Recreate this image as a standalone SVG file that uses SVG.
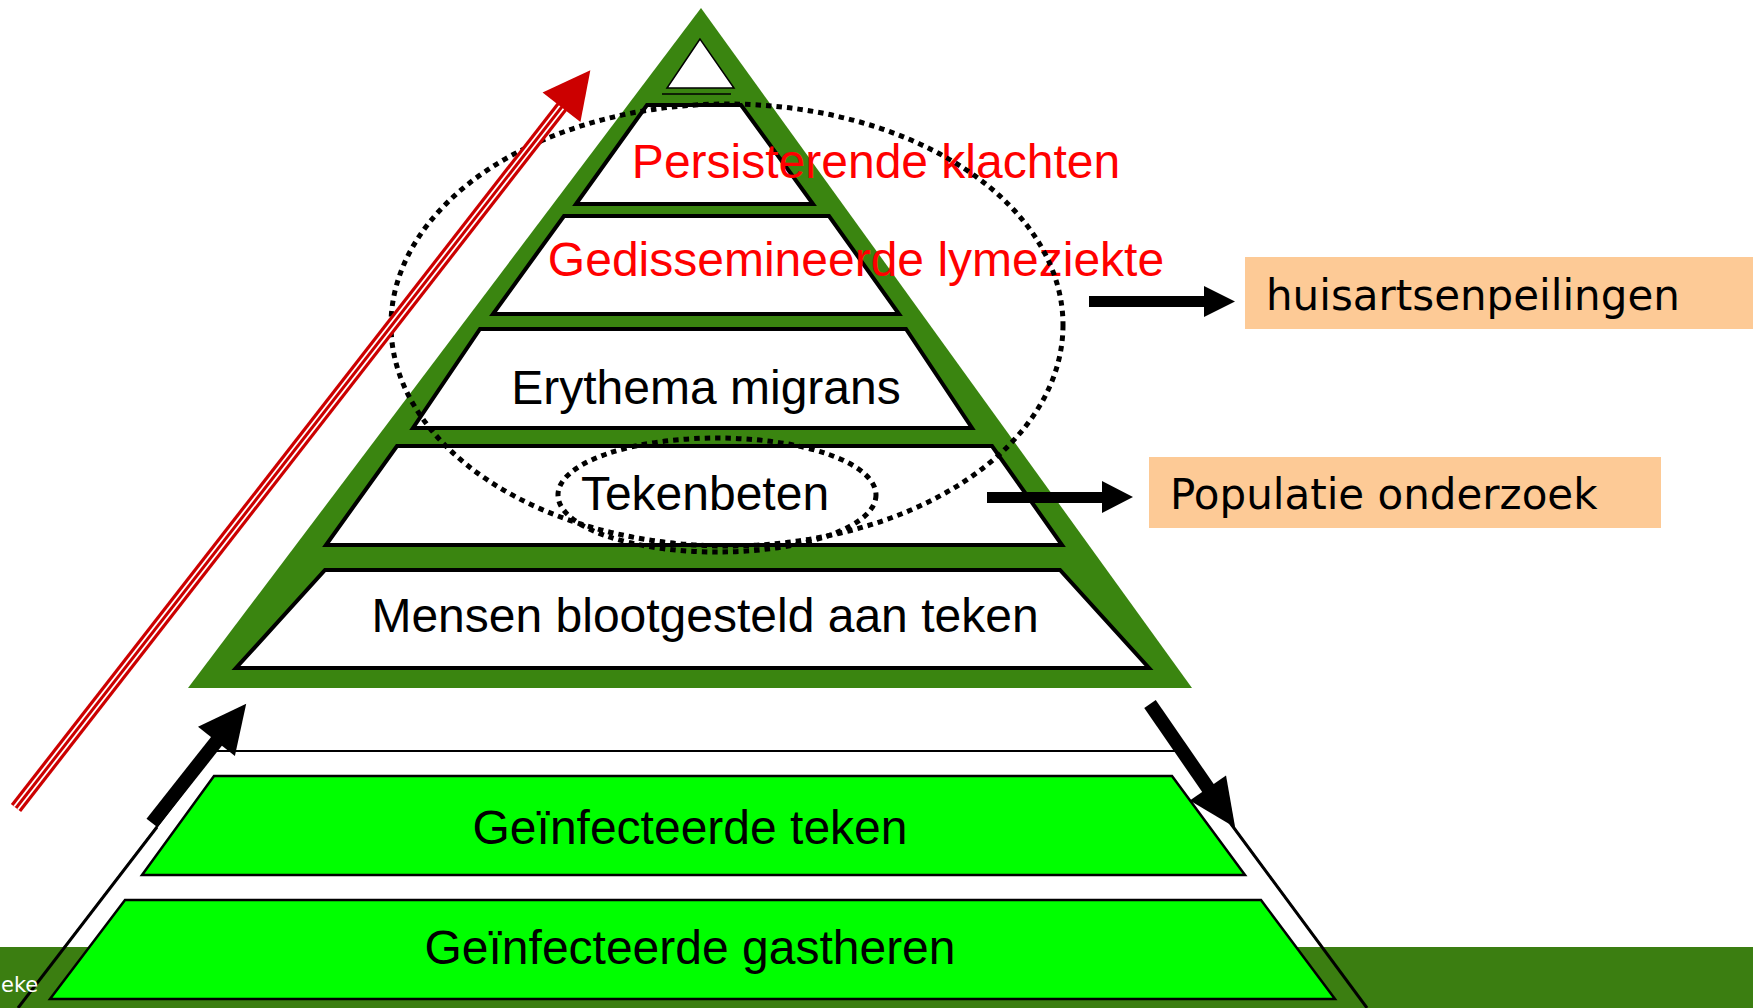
<svg xmlns="http://www.w3.org/2000/svg" width="1753" height="1008" viewBox="0 0 1753 1008">
<defs>
<style>
.trap{fill:#ffffff;stroke:#000000;stroke-width:4;stroke-linejoin:miter}
.gtrap{fill:#00ff00;stroke:#000000;stroke-width:2.5}
.lbl{font-family:"Liberation Sans",Arial,sans-serif;font-size:48px;text-anchor:middle;fill:#000000}
.red{fill:#ff0000}
.box{fill:#fdca96}
.boxt{font-family:"DejaVu Sans",Verdana,sans-serif;font-size:42px;fill:#000000}
.dot{fill:none;stroke:#000000;stroke-width:5;stroke-dasharray:5.5 5}
.blk{fill:#000000}
</style>
</defs>
<rect x="0" y="0" width="1753" height="1008" fill="#ffffff"/>
<g id="lower-outline">
<polyline points="18,1008 215,751 1177,751 1367,1008" fill="none" stroke="#000000" stroke-width="2"/>
</g>
<rect id="footer-band" x="0" y="947" width="1753" height="61" fill="#3b7e11"/>
<g id="lower-lines">
<line x1="18" y1="1008" x2="157" y2="827" stroke="#000000" stroke-width="3"/>
<line x1="1200" y1="782" x2="1367" y2="1008" stroke="#000000" stroke-width="3"/>
</g>
<text x="1" y="992" font-family="'DejaVu Sans',Verdana,sans-serif" font-size="21" fill="#ffffff">eke</text>
<g id="node-teken">
<polygon class="gtrap" points="214,776 1172,776 1245,875 142,875"/>
<text class="lbl" x="690" y="844">Geïnfecteerde teken</text>
</g>
<g id="node-gastheren">
<polygon class="gtrap" points="125,900 1261,900 1335,999 50,999"/>
<text class="lbl" x="690" y="964">Geïnfecteerde gastheren</text>
</g>
<g id="pyramid">
<polygon points="701,8 188,688 1192,688" fill="#3a8510"/>
<polygon points="700,39 667,88 734,88" fill="#ffffff" stroke="#000000" stroke-width="1.5"/>
<line x1="662" y1="94" x2="731" y2="94" stroke="#000000" stroke-width="1.5"/>
</g>
<g id="node-persisterend">
<polygon class="trap" points="647,105 741,105 813,204 576,204"/>
</g>
<g id="node-gedissemineerd">
<polygon class="trap" points="564,216 829,216 899,314 493,314"/>
</g>
<g id="node-erythema">
<polygon class="trap" points="480,329 906,329 972,428 413,428"/>
<text class="lbl" x="706" y="404">Erythema migrans</text>
</g>
<g id="node-tekenbeten">
<polygon class="trap" points="397,446 992,446 1062,545 326,545"/>
<text class="lbl" x="705" y="510">Tekenbeten</text>
</g>
<g id="node-mensen">
<polygon class="trap" points="325,570 1060,570 1149,668 236,668"/>
<text class="lbl" x="705" y="632">Mensen blootgesteld aan teken</text>
</g>
<text class="lbl red" x="876" y="178">Persisterende klachten</text>
<text class="lbl red" x="856" y="276">Gedissemineerde lymeziekte</text>
<g id="ellipses">
<ellipse class="dot" cx="727" cy="325" rx="336" ry="221"/>
<ellipse class="dot" cx="717" cy="495" rx="159" ry="57"/>
</g>
<g id="node-huisarts">
<rect class="box" x="1245" y="257" width="508" height="72"/>
<text class="boxt" x="1266" y="310">huisartsenpeilingen</text>
</g>
<g id="node-populatie">
<rect class="box" x="1149" y="457" width="512" height="71"/>
<text class="boxt" x="1170" y="509">Populatie onderzoek</text>
</g>
<g id="connectors">
<g transform="translate(16,808) rotate(-52.1)">
<rect x="0" y="-6.5" width="890" height="13" fill="#cc0000"/>
<rect x="0" y="-3.3" width="890" height="1.8" fill="#ffffff"/>
<rect x="0" y="1.5" width="890" height="1.8" fill="#ffffff"/>
<polygon points="888,-24 935,0 888,24" fill="#cc0000"/>
</g>
<g transform="translate(152,823) rotate(-51.7)">
<rect x="0" y="-7" width="108" height="14" class="blk"/>
<polygon points="104,-23.5 152,0 104,23.5" class="blk"/>
</g>
<g transform="translate(1150,704) rotate(55.4)">
<rect x="0" y="-7" width="106" height="14" class="blk"/>
<polygon points="102,-22 150,0 102,22" class="blk"/>
</g>
<rect x="1089" y="296" width="118" height="11" class="blk"/>
<polygon points="1204,286 1235,301.5 1204,317" class="blk"/>
<rect x="987" y="492" width="118" height="11" class="blk"/>
<polygon points="1102,481 1133,497 1102,513" class="blk"/>
</g>
</svg>
